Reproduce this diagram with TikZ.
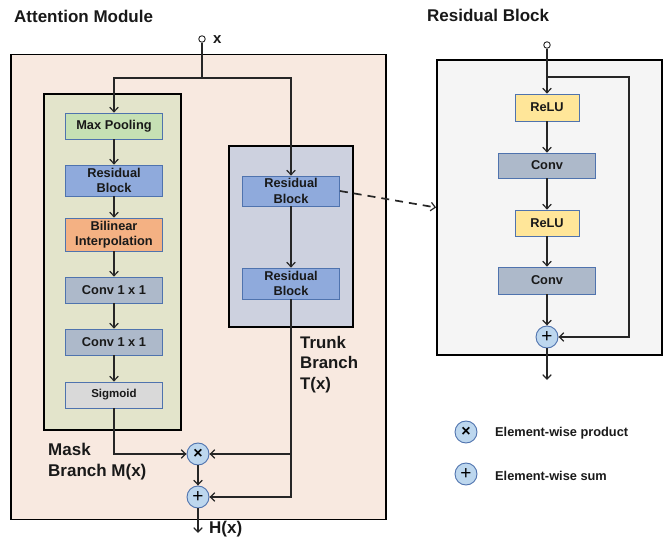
\documentclass[tikz,border=0pt]{standalone}
\usepackage{fontspec}
\setmainfont{Liberation Sans}
\usetikzlibrary{arrows.meta}
\definecolor{outerfill}{HTML}{F8E9E0}
\definecolor{maskfill}{HTML}{E3E4CB}
\definecolor{trunkfill}{HTML}{CDD1DF}
\definecolor{resfill}{HTML}{F5F5F5}
\definecolor{bdr}{HTML}{4F73AE}
\definecolor{cgreen}{HTML}{C6E0B4}
\definecolor{cblue}{HTML}{8FAADC}
\definecolor{corange}{HTML}{F4B183}
\definecolor{cgray}{HTML}{ADB9CA}
\definecolor{clight}{HTML}{D9D9D9}
\definecolor{cyellow}{HTML}{FFE699}
\definecolor{ccirc}{HTML}{BDD7EE}
\tikzset{
  blk/.style={draw=bdr, line width=0.8pt, inner sep=0pt, align=center,
    font=\fontsize{12.8}{15.5}\selectfont\bfseries, text=black!90},
  container/.style={draw=black, line width=1.8pt, inner sep=0pt},
  opc/.style={circle, draw=bdr, line width=0.9pt, fill=ccirc, minimum size=22pt, inner sep=0pt},
  conn/.style={line width=1.5pt, draw=black!85},
  arr/.style={conn, -{Straight Barb[length=4.5pt,width=8.5pt,line width=1.2pt]}},
  inport/.style={circle, draw=black!85, line width=0.9pt, fill=white, minimum size=6.5pt, inner sep=0pt},
  lbl/.style={font=\fontsize{16.8}{20.5}\selectfont\bfseries, text=black!90, align=left, inner sep=0pt},
  timesg/.style={font=\fontsize{16}{16}\selectfont\bfseries},
  plusg/.style={font=\fontsize{19}{19}\selectfont},
}
\begin{document}
\begin{tikzpicture}[x=1pt,y=-1pt]
\useasboundingbox (0,0) rectangle (664,537);
% containers
\node[container, fill=outerfill, minimum width=375pt, minimum height=465pt] (att) at (198.5,287) {};
\node[container, fill=maskfill, minimum width=137pt, minimum height=336pt] (mask) at (112.5,262) {};
\node[container, fill=trunkfill, minimum width=124pt, minimum height=181pt] (trunk) at (291,236.5) {};
\node[container, fill=resfill, minimum width=225pt, minimum height=295pt] (resbox) at (549.5,207.5) {};
% titles
\node[lbl, anchor=west, font=\fontsize{17}{20}\selectfont\bfseries] (t1) at (14,16) {Attention Module};
\node[lbl, anchor=west, font=\fontsize{17}{20}\selectfont\bfseries] (t2) at (427,15) {Residual Block};
% mask branch
\node[blk, fill=cgreen, minimum width=97pt, minimum height=26pt] (mp) at (114,126) {Max Pooling};
\node[blk, fill=cblue, minimum width=97pt, minimum height=31pt] (mrb) at (114,180.5) {Residual\\Block};
\node[blk, fill=corange, minimum width=97pt, minimum height=33pt] (bil) at (114,234.5) {Bilinear\\Interpolation};
\node[blk, fill=cgray, minimum width=97pt, minimum height=26pt] (c1) at (114,290) {Conv 1 x 1};
\node[blk, fill=cgray, minimum width=97pt, minimum height=26pt] (c2) at (114,342) {Conv 1 x 1};
\node[blk, fill=clight, minimum width=97pt, minimum height=26pt, font=\fontsize{11.5}{13}\selectfont\bfseries] (sig) at (114,395) {Sigmoid};
% trunk branch
\node[blk, fill=cblue, minimum width=97pt, minimum height=30pt] (tb1) at (291,191) {Residual\\Block};
\node[blk, fill=cblue, minimum width=97pt, minimum height=31pt] (tb2) at (291,283.5) {Residual\\Block};
% labels
\node[lbl, anchor=west] (tl) at (300,364.5) {Trunk\\Branch\\T(x)};
\node[lbl, anchor=west, font=\fontsize{17}{21}\selectfont\bfseries] (ml) at (48,461.5) {Mask\\Branch M(x)};
% operators
\node[opc, timesg] (prod) at (198,454) {×};
\node[opc, plusg] (sum) at (198,497) {+};
% input
\node[inport] (inx) at (202,39) {};
\node[lbl, anchor=west, font=\fontsize{15}{15}\selectfont\bfseries] (xl) at (213,40) {x};
\coordinate (split) at (202,78);
\coordinate (hx) at (198,533);
\node[lbl, anchor=west, font=\fontsize{17}{17}\selectfont\bfseries] (hxl) at (209,529) {H(x)};
% connectors attention
\draw[conn] (inx) -- (split);
\draw[arr] (split) -| (mp.north);
\draw[arr] (split) -| (tb1.north);
\draw[arr] (mp) -- (mrb);
\draw[arr] (mrb) -- (bil);
\draw[arr] (bil) -- (c1);
\draw[arr] (c1) -- (c2);
\draw[arr] (c2) -- (sig);
\draw[arr] (sig.south) |- (prod.west);
\draw[arr] (tb1) -- (tb2);
\draw[arr] (tb2.south) |- (prod.east);
\draw[arr] (tb2.south) |- (sum.east);
\draw[arr] (prod) -- (sum);
\draw[arr] (sum) -- (hx);
% residual block
\node[inport] (rin) at (547,45) {};
\node[blk, fill=cyellow, minimum width=64pt, minimum height=27pt] (r1) at (547,107.5) {ReLU};
\node[blk, fill=cgray, minimum width=97pt, minimum height=25pt] (rc1) at (547,165.5) {Conv};
\node[blk, fill=cyellow, minimum width=64pt, minimum height=26pt] (r2) at (547,223) {ReLU};
\node[blk, fill=cgray, minimum width=97pt, minimum height=27pt] (rc2) at (547,280.5) {Conv};
\node[opc, plusg] (rsum) at (547,337) {+};
\coordinate (rsplit) at (547,77);
\coordinate (rout) at (547,380);
\draw[arr] (rin) -- (r1);
\draw[arr] (rsplit) -- (629,77) |- (rsum.east);
\draw[arr] (r1) -- (rc1);
\draw[arr] (rc1) -- (r2);
\draw[arr] (r2) -- (rc2);
\draw[arr] (rc2) -- (rsum);
\draw[arr] (rsum) -- (rout);
% dashed link
\draw[arr, line width=1.7pt, dash pattern=on 8pt off 6pt] (tb1.east) -- (resbox.west);
% legend
\node[opc, timesg] (lp) at (466,432) {×};
\node[opc, plusg] (ls) at (466,474) {+};
\node[lbl, anchor=west, font=\fontsize{12.8}{15}\selectfont\bfseries] (lpt) at (495,433) {Element-wise product};
\node[lbl, anchor=west, font=\fontsize{12.8}{15}\selectfont\bfseries] (lst) at (495,476) {Element-wise sum};
\end{tikzpicture}
\end{document}
